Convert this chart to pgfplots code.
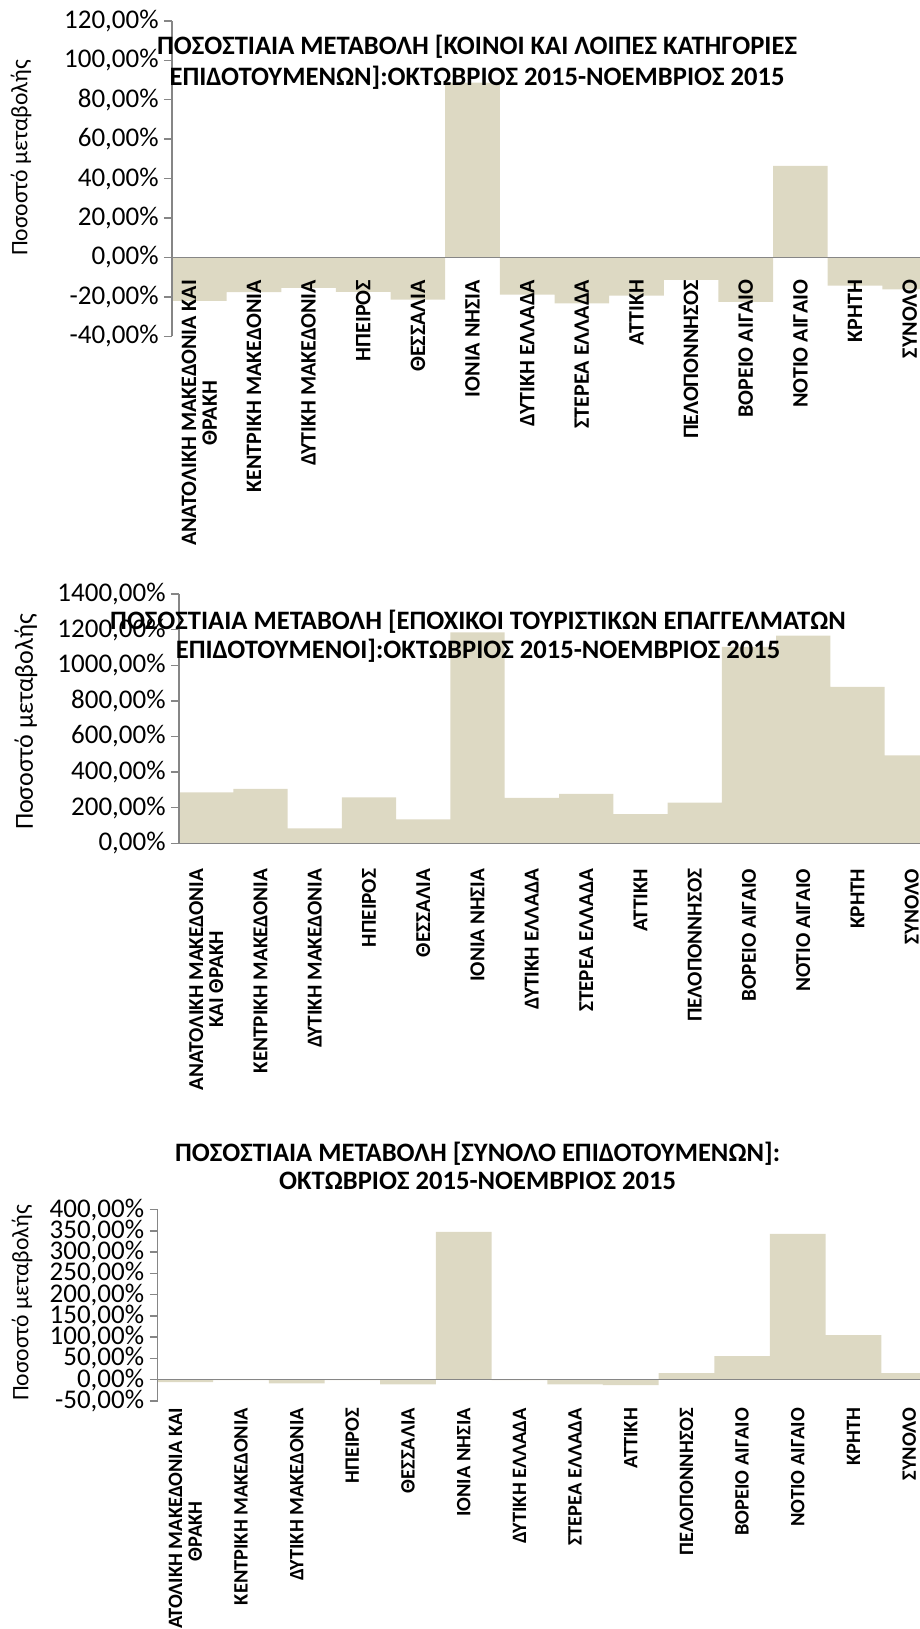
\documentclass[border=0pt]{standalone}
\usepackage{fontspec}
\setmainfont{Carlito}
\usepackage{pgfplots}
\pgfplotsset{compat=1.18}
\definecolor{barc}{RGB}{221,217,195}
\definecolor{axc}{RGB}{134,134,134}
\pgfplotsset{
  greek/.style={
    scale only axis,
    axis on top,
    ybar, bar width=1,
    xmin=-0.5, xmax=13.5,
    xtick={0,...,13},
    axis y line*=left, axis x line*=middle,
    hide obscured x ticks=false, hide obscured y ticks=false,
    axis line style={axc, line width=0.7pt},
    y tick style={axc, line width=0.7pt},
    x tick style={draw=none},
    tick align=outside,
    major tick length=4pt,
    yticklabel={\pgfmathprintnumber{\tick}\%},
    yticklabel style={font=\fontsize{13.5}{14}\selectfont, inner sep=0pt,
      /pgf/number format/.cd, fixed, fixed zerofill, precision=2, use comma, 1000 sep={}, assume math mode=true},
    yticklabel shift=2.5pt,
    xticklabel style={rotate=90, anchor=east, align=center, inner sep=0pt},
    clip=false,
  }
}
\begin{document}
\begin{tikzpicture}
\useasboundingbox (0,0) rectangle (460pt,-814.5pt);
\clip (0,0) rectangle (460pt,-814.5pt);

% ---------- Chart 1
\begin{axis}[greek, at={(86pt,-168.2pt)}, anchor=south west,
  width=382.5pt, height=157.8pt, ymin=-40, ymax=120, ytick={-40,-20,...,120},
  xticklabel shift=7pt,
  xticklabel style={font=\bfseries\fontsize{11}{10.4}\selectfont},
  xticklabels={{ΑΝΑΤΟΛΙΚΗ ΜΑΚΕΔΟΝΙΑ ΚΑΙ\\ΘΡΑΚΗ},ΚΕΝΤΡΙΚΗ ΜΑΚΕΔΟΝΙΑ,ΔΥΤΙΚΗ ΜΑΚΕΔΟΝΙΑ,ΗΠΕΙΡΟΣ,ΘΕΣΣΑΛΙΑ,ΙΟΝΙΑ ΝΗΣΙΑ,ΔΥΤΙΚΗ ΕΛΛΑΔΑ,ΣΤΕΡΕΑ ΕΛΛΑΔΑ,ΑΤΤΙΚΗ,ΠΕΛΟΠΟΝΝΗΣΟΣ,ΒΟΡΕΙΟ ΑΙΓΑΙΟ,ΝΟΤΙΟ ΑΙΓΑΙΟ,ΚΡΗΤΗ,ΣΥΝΟΛΟ}]
\addplot[fill=barc, draw=none] coordinates {(0,-22.0) (1,-17.6) (2,-15.4) (3,-17.4) (4,-21.3) (5,88.7) (6,-18.8) (7,-23.2) (8,-19.3) (9,-11.3) (10,-22.5) (11,46.5) (12,-14.2) (13,-16.1)};
\end{axis}
\node[font=\bfseries\fontsize{13.3}{15.6}\selectfont, align=center] at (238.5pt,-31pt)
  {ΠΟΣΟΣΤΙΑΙΑ ΜΕΤΑΒΟΛΗ [ΚΟΙΝΟΙ ΚΑΙ ΛΟΙΠΕΣ ΚΑΤΗΓΟΡΙΕΣ\\ΕΠΙΔΟΤΟΥΜΕΝΩΝ]:ΟΚΤΩΒΡΙΟΣ 2015-ΝΟΕΜΒΡΙΟΣ 2015};
\node[rotate=90, font=\fontsize{11.8}{13}\selectfont] at (10.5pt,-79pt) {Ποσοστό μεταβολής};

% ---------- Chart 2
\begin{axis}[greek, at={(89.5pt,-421.65pt)}, anchor=south west,
  width=380pt, height=124.65pt, ymin=0, ymax=1400, ytick={0,200,...,1400},
  xticklabel shift=8.5pt,
  xticklabel style={font=\bfseries\fontsize{10.6}{10}\selectfont},
  xticklabels={{ΑΝΑΤΟΛΙΚΗ ΜΑΚΕΔΟΝΙΑ\\ΚΑΙ ΘΡΑΚΗ},ΚΕΝΤΡΙΚΗ ΜΑΚΕΔΟΝΙΑ,ΔΥΤΙΚΗ ΜΑΚΕΔΟΝΙΑ,ΗΠΕΙΡΟΣ,ΘΕΣΣΑΛΙΑ,ΙΟΝΙΑ ΝΗΣΙΑ,ΔΥΤΙΚΗ ΕΛΛΑΔΑ,ΣΤΕΡΕΑ ΕΛΛΑΔΑ,ΑΤΤΙΚΗ,ΠΕΛΟΠΟΝΝΗΣΟΣ,ΒΟΡΕΙΟ ΑΙΓΑΙΟ,ΝΟΤΙΟ ΑΙΓΑΙΟ,ΚΡΗΤΗ,ΣΥΝΟΛΟ}]
\addplot[fill=barc, draw=none] coordinates {(0,285.7) (1,306) (2,84.6) (3,257.5) (4,135) (5,1185) (6,255.6) (7,278) (8,163.5) (9,229) (10,1103) (11,1167) (12,878) (13,494)};
\end{axis}
\node[font=\bfseries\fontsize{13.3}{14.6}\selectfont, align=center] at (239pt,-318pt)
  {ΠΟΣΟΣΤΙΑΙΑ ΜΕΤΑΒΟΛΗ [ΕΠΟΧΙΚΟΙ ΤΟΥΡΙΣΤΙΚΩΝ ΕΠΑΓΓΕΛΜΑΤΩΝ\\ΕΠΙΔΟΤΟΥΜΕΝΟΙ]:ΟΚΤΩΒΡΙΟΣ 2015-ΝΟΕΜΒΡΙΟΣ 2015};
\node[rotate=90, font=\fontsize{13}{15}\selectfont] at (13pt,-361pt) {Ποσοστό μεταβολής};

% ---------- Chart 3
\begin{axis}[greek, at={(78.75pt,-700.4pt)}, anchor=south west,
  width=389.75pt, height=95.55pt, ymin=-50, ymax=400, ytick={-50,0,...,400},
  xticklabel shift=10pt,
  xticklabel style={font=\bfseries\fontsize{10.2}{9.8}\selectfont},
  xticklabels={{ΑΝΑΤΟΛΙΚΗ ΜΑΚΕΔΟΝΙΑ ΚΑΙ\\ΘΡΑΚΗ},ΚΕΝΤΡΙΚΗ ΜΑΚΕΔΟΝΙΑ,ΔΥΤΙΚΗ ΜΑΚΕΔΟΝΙΑ,ΗΠΕΙΡΟΣ,ΘΕΣΣΑΛΙΑ,ΙΟΝΙΑ ΝΗΣΙΑ,ΔΥΤΙΚΗ ΕΛΛΑΔΑ,ΣΤΕΡΕΑ ΕΛΛΑΔΑ,ΑΤΤΙΚΗ,ΠΕΛΟΠΟΝΝΗΣΟΣ,ΒΟΡΕΙΟ ΑΙΓΑΙΟ,ΝΟΤΙΟ ΑΙΓΑΙΟ,ΚΡΗΤΗ,ΣΥΝΟΛΟ}]
\addplot[fill=barc, draw=none] coordinates {(0,-6) (1,-1) (2,-8.9) (3,-1) (4,-11) (5,348) (6,-1) (7,-11) (8,-13) (9,15) (10,55.5) (11,343) (12,105) (13,15)};
\end{axis}
\node[font=\bfseries\fontsize{13.3}{14}\selectfont, align=center] at (238.75pt,-583pt)
  {ΠΟΣΟΣΤΙΑΙΑ ΜΕΤΑΒΟΛΗ [ΣΥΝΟΛΟ ΕΠΙΔΟΤΟΥΜΕΝΩΝ]:\\ΟΚΤΩΒΡΙΟΣ 2015-ΝΟΕΜΒΡΙΟΣ 2015};
\node[rotate=90, font=\fontsize{11.8}{13}\selectfont] at (11pt,-651.5pt) {Ποσοστό μεταβολής};
\end{tikzpicture}
\end{document}
